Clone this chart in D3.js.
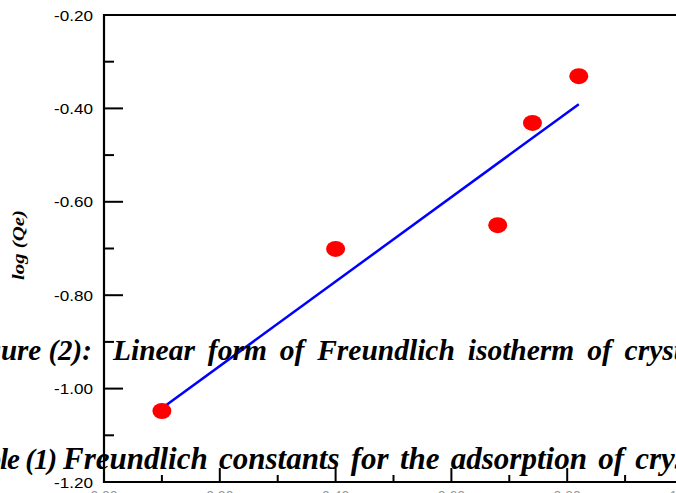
<!DOCTYPE html>
<html>
<head>
<meta charset="utf-8">
<script src="https://cdn.jsdelivr.net/npm/d3@7"></script>
<style>
  html, body { margin: 0; padding: 0; background: #fff; overflow: hidden; }
  svg { display: block; }
</style>
</head>
<body>
<svg id="chart"></svg>
<script>
// log(Ce) vs log(Qe) points
var logCe = [0.10, 0.40, 0.68, 0.74, 0.82];
var logQe = [-1.048, -0.701, -0.650, -0.431, -0.331];

// fitted line ends
var fitX = [0.10, 0.82];
var fitY = [-1.042, -0.391];

var yTicks = [-0.2, -0.4, -0.6, -0.8, -1.0, -1.2];
var yMinor = [-0.3, -0.5, -0.7, -0.9, -1.1];
var xTicks = [0.0, 0.2, 0.4, 0.6, 0.8, 1.0];
var xMinor = [0.1, 0.3, 0.5, 0.7, 0.9];

var caption1 = ["Figure (2): ", "Linear form of Freundlich isotherm of crystal violet"];
var caption2 = ["Table (1) ", "Freundlich constants for the adsorption of crystal violet"];

(function() {
  var width = 676, height = 493;
  var svg = d3.select("#chart").attr("width", width).attr("height", height);

  var x = d3.scaleLinear().domain([0, 1]).range([104, 683]);
  var y = d3.scaleLinear().domain([-1.2, -0.2]).range([482, 15]);
  var fmt = function(d) { return d.toFixed(2); };

  // frame
  svg.append("line")
    .attr("x1", x(0)).attr("x2", width + 5)
    .attr("y1", y(-0.2)).attr("y2", y(-0.2))
    .attr("stroke", "#000").attr("stroke-width", 2.2);
  svg.append("line")
    .attr("x1", x(0)).attr("x2", width + 5)
    .attr("y1", y(-1.2)).attr("y2", y(-1.2))
    .attr("stroke", "#000").attr("stroke-width", 2.2);
  svg.append("line")
    .attr("x1", x(0)).attr("x2", x(0))
    .attr("y1", y(-0.2) - 1).attr("y2", y(-1.2) + 1)
    .attr("stroke", "#000").attr("stroke-width", 2.2);

  // y ticks (pointing inward)
  svg.selectAll(".ymaj").data(yTicks).enter().append("line")
    .attr("x1", x(0)).attr("x2", x(0) + 19)
    .attr("y1", d => y(d)).attr("y2", d => y(d))
    .attr("stroke", "#000").attr("stroke-width", 2);
  svg.selectAll(".ymin").data(yMinor).enter().append("line")
    .attr("x1", x(0)).attr("x2", x(0) + 10)
    .attr("y1", d => y(d)).attr("y2", d => y(d))
    .attr("stroke", "#000").attr("stroke-width", 2);

  svg.selectAll(".ylab").data(yTicks).enter().append("text")
    .attr("x", 93).attr("y", d => y(d) + 5.5)
    .attr("text-anchor", "end")
    .attr("font-family", "Liberation Sans, Arial, sans-serif")
    .attr("font-size", 14.5)
    .attr("textLength", 39).attr("lengthAdjust", "spacingAndGlyphs")
    .text(fmt);

  // x ticks (pointing up)
  svg.selectAll(".xmaj").data(xTicks).enter().append("line")
    .attr("x1", d => x(d)).attr("x2", d => x(d))
    .attr("y1", y(-1.2)).attr("y2", y(-1.2) - 14)
    .attr("stroke", "#000").attr("stroke-width", 2);
  svg.selectAll(".xmin").data(xMinor).enter().append("line")
    .attr("x1", d => x(d)).attr("x2", d => x(d))
    .attr("y1", y(-1.2)).attr("y2", y(-1.2) - 7)
    .attr("stroke", "#000").attr("stroke-width", 2);

  // x labels, mostly below the visible edge
  svg.selectAll(".xlab").data(xTicks).enter().append("text")
    .attr("x", d => x(d)).attr("y", 501)
    .attr("text-anchor", "middle")
    .attr("font-family", "Liberation Sans, Arial, sans-serif")
    .attr("font-size", 14)
    .attr("fill", "#999")
    .text(fmt);

  // y axis title
  svg.append("text")
    .attr("transform", "translate(24,245) rotate(-90)")
    .attr("text-anchor", "middle")
    .attr("font-family", "Liberation Serif, Times New Roman, serif")
    .attr("font-style", "italic").attr("font-weight", "bold")
    .attr("font-size", 16)
    .attr("textLength", 70).attr("lengthAdjust", "spacingAndGlyphs")
    .text("log (Qe)");

  // fit line
  svg.append("line")
    .attr("x1", x(fitX[0])).attr("y1", y(fitY[0]))
    .attr("x2", x(fitX[1])).attr("y2", y(fitY[1]))
    .attr("stroke", "#0000ff").attr("stroke-width", 2.5);

  // points
  svg.selectAll(".pt").data(logCe).enter().append("ellipse")
    .attr("cx", d => x(d))
    .attr("cy", (d, i) => y(logQe[i]))
    .attr("rx", 9.5).attr("ry", 8)
    .attr("fill", "#ff0000");

  // overlapping document captions (justified text in the source page)
  function caption(parts, size, leadSize, leadSpacing, lead, start, baseline, spacing) {
    var t = svg.append("text")
      .attr("y", baseline)
      .attr("font-family", "Liberation Serif, Times New Roman, serif")
      .attr("font-style", "italic").attr("font-weight", "bold")
      .attr("font-size", size);
    t.append("tspan").attr("x", lead)
      .attr("font-size", leadSize).attr("letter-spacing", leadSpacing)
      .text(parts[0]);
    t.append("tspan").attr("x", start).attr("word-spacing", spacing).text(parts[1]);
  }
  caption(caption1, 29.5, 29, 0, -41, 113, 360, 5.5);
  caption(caption2, 31, 29, -1, -41, 63, 469, 3.5);
})();
</script>
</body>
</html>
